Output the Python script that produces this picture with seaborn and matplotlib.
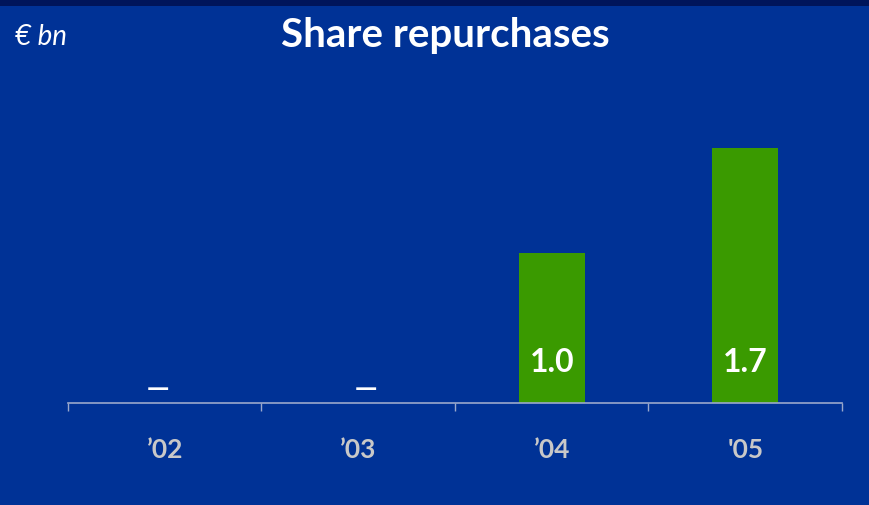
import numpy as np
import pandas as pd
import seaborn as sns
import matplotlib
matplotlib.use('Agg')
from matplotlib import pyplot as plt
from matplotlib.patches import Rectangle

# data
years = ['\u201902', '\u201903', '\u201904', "'05"]
values = [0.0, 0.0, 1.0, 1.7]
labels = ['\u2014', '\u2014', '1.0', '1.7']

bg = '#003296'
green = '#3a9a00'

sns.set_theme(style='white')
plt.rcParams['font.family'] = ['Lato', 'DejaVu Sans']

df = pd.DataFrame({'year': years, 'value': values})

fig = plt.figure(figsize=(8.7, 5.05), dpi=100, facecolor=bg)
ax = fig.add_axes([68 / 870, 1 - 403 / 505, (842 - 68) / 870, 300 / 505])
ax.set_facecolor(bg)

sns.barplot(data=df, x='year', y='value', color=green, width=0.34,
            saturation=1, edgecolor='none', linewidth=0, ax=ax)

ax.set_xlim(-0.5, 3.5)
ax.set_ylim(0, 2.0)

# value labels (the dashes sit a bit off-centre in the original)
dash_shift = [-0.035, 0.04, 0, 0]
for i, (v, lab) in enumerate(zip(values, labels)):
    if v > 0:
        ax.text(i, 0.27, lab, ha='center', va='center', color='white',
                fontsize=23, fontweight='bold')
    else:
        ax.text(i + dash_shift[i], 0.09, lab, ha='center', va='center', color='white',
                fontsize=16, fontweight='bold', family='DejaVu Sans')

# axes styling
for s in ['top', 'right', 'left']:
    ax.spines[s].set_visible(False)
ax.spines['bottom'].set_color('#9aa8cc')
ax.spines['bottom'].set_linewidth(1.2)
ax.set_yticks([])
ax.set_xlabel('')
ax.set_ylabel('')
ax.set_xticks(range(4))
ax.set_xticklabels(years, color='#c8c8c8', fontsize=19, fontweight='bold')
ax.tick_params(axis='x', which='major', length=0, pad=25)
ax.set_xticks(np.arange(-0.5, 4, 1), minor=True)
ax.tick_params(axis='x', which='minor', length=6, width=1, color='#9aa8cc',
               direction='out', bottom=True)

# title and unit
fig.text(445 / 870, 1 - 36 / 505, 'Share repurchases', ha='center', va='center',
         color='white', fontsize=29, fontweight='bold')
fig.text(15 / 870, 1 - 37 / 505, '\u20ac bn', ha='left', va='center',
         color='white', fontsize=20, style='italic')

# dark strip on top
fig.patches.append(Rectangle((0, 1 - 6 / 505), 1, 6 / 505, transform=fig.transFigure,
                             facecolor='#00155a', edgecolor='none'))

fig.savefig('out.png', dpi=100, facecolor=bg)
